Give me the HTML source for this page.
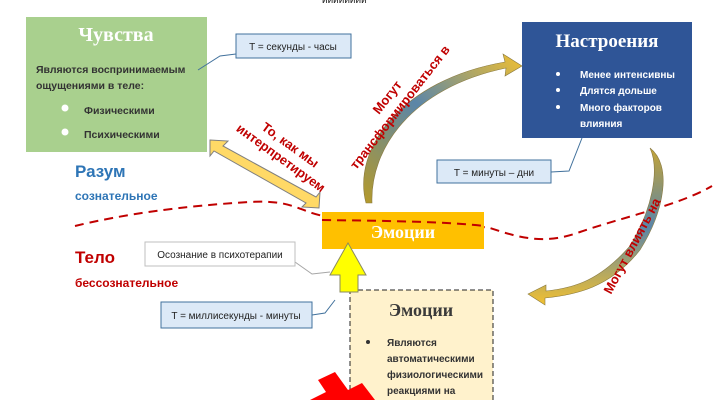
<!DOCTYPE html>
<html><head><meta charset="utf-8"><style>
html,body{margin:0;padding:0;background:#fff;width:723px;height:400px;overflow:hidden}
svg{display:block;font-family:"Liberation Sans","DejaVu Sans",sans-serif}
.b{font-weight:bold}
</style></head><body>
<svg width="723" height="400" viewBox="0 0 723 400" xmlns="http://www.w3.org/2000/svg">
<defs>
<linearGradient id="g1" x1="0" y1="1" x2="1" y2="0"><stop offset="0" stop-color="#b59a2a"/><stop offset="0.5" stop-color="#5b86a8"/><stop offset="1" stop-color="#f2c030"/></linearGradient>
<linearGradient id="g2" x1="0" y1="0" x2="0" y2="1"><stop offset="0" stop-color="#c4a437"/><stop offset="0.5" stop-color="#5b86a8"/><stop offset="1" stop-color="#f2c030"/></linearGradient>
</defs>
<text x="322" y="3" font-size="10" fill="#222">ииииииии</text>
<!-- dashed line -->
<path d="M75,226 C120,215 180,206 250,202 C300,199 300,216 340,218 C400,221 450,222 490,228 C520,238 545,245 580,232 C620,218 680,205 712,186" fill="none" stroke="#c00000" stroke-width="2" stroke-dasharray="9,6"/>
<!-- green box -->
<rect x="26" y="17" width="181" height="135" fill="#a9d08e"/>
<text x="116" y="41" font-family="Liberation Serif,serif" font-size="20" font-weight="bold" fill="#fff" text-anchor="middle">Чувства</text>
<text x="36" y="73" font-size="10.5" class="b" fill="#333">Являются воспринимаемым</text>
<text x="36" y="89" font-size="10.5" class="b" fill="#333">ощущениями в теле:</text>
<circle cx="65" cy="108" r="3.5" fill="#fff"/><text x="84" y="114" font-size="10.5" class="b" fill="#333">Физическими</text>
<circle cx="65" cy="132" r="3.5" fill="#fff"/><text x="84" y="138" font-size="10.5" class="b" fill="#333">Психическими</text>
<!-- T sec -->
<polyline points="236,54 220,56 198,70" fill="none" stroke="#41719c" stroke-width="1"/>
<rect x="236" y="34" width="115" height="24" fill="#dce9f7" stroke="#41719c"/>
<text x="293" y="50" font-size="10" fill="#222" text-anchor="middle">T = секунды - часы</text>
<!-- blue box -->
<rect x="522" y="22" width="170" height="116" fill="#2f5597"/>
<text x="607" y="47" font-family="Liberation Serif,serif" font-size="19" font-weight="bold" fill="#fff" text-anchor="middle">Настроения</text>
<g font-size="10" class="b" fill="#fff">
<circle cx="558" cy="74" r="2" fill="#fff"/><text x="580" y="78">Менее интенсивны</text>
<circle cx="558" cy="90" r="2" fill="#fff"/><text x="580" y="94">Длятся дольше</text>
<circle cx="558" cy="107" r="2" fill="#fff"/><text x="580" y="111">Много факторов</text>
<text x="580" y="127">влияния</text></g>
<polyline points="551,172 569,171 582,138" fill="none" stroke="#41719c"/>
<rect x="437" y="160" width="114" height="23" fill="#dce9f7" stroke="#41719c"/>
<text x="494" y="176" font-size="10" fill="#222" text-anchor="middle">T = минуты – дни</text>
<!-- labels -->
<text x="75" y="177" font-size="17" class="b" fill="#2e75b6">Разум</text>
<text x="75" y="200" font-size="12" class="b" fill="#2e75b6">сознательное</text>
<text x="75" y="263" font-size="17" class="b" fill="#c00000">Тело</text>
<text x="75" y="287" font-size="12" class="b" fill="#c00000">бессознательное</text>
<!-- double arrow -->
<polygon points="210,140 228,141 223,146 316,197 320,192 319,208 302,207 306,203 214,151 210,156" fill="#ffd966" stroke="#7f7f7f" stroke-width="1"/>
<g transform="translate(283,155) rotate(36)" font-size="13" class="b" fill="#c00000" text-anchor="middle">
<text x="0" y="-8">То, как мы</text><text x="0" y="8">интерпретируем</text></g>
<!-- curved arrow up -->
<path d="M366,203 C352,150 400,80 505,62 L503,54 L522,66 L505,76 L506,68 C410,88 370,150 372,203 Z" fill="url(#g1)" stroke="#8a7a40" stroke-width="0.6"/>
<g transform="translate(397,105) rotate(-52)" font-size="13" class="b" fill="#c00000" text-anchor="middle">
<text x="0" y="-8">Могут</text><text x="0" y="8">трансформироваться в</text></g>
<!-- curved arrow down -->
<path d="M650,148 C672,165 665,210 640,250 C610,288 575,295 545,298 L545,305 L528,294 L546,285 L546,291 C575,288 600,280 630,246 C652,210 660,170 650,148 Z" fill="url(#g2)" stroke="#8a7a40" stroke-width="0.6"/>
<text transform="translate(636,248) rotate(-62)" font-size="13" class="b" fill="#c00000" text-anchor="middle">Могут влиять на</text>
<!-- orange box -->
<rect x="322" y="212" width="162" height="37" fill="#ffc000"/>
<path d="M322,220 C400,221 450,222 484,226" fill="none" stroke="#c00000" stroke-width="2" stroke-dasharray="9,6"/>
<text x="403" y="238" font-family="Liberation Serif,serif" font-size="18" font-weight="bold" fill="#fff" text-anchor="middle">Эмоции</text>
<!-- osoznanie -->
<polyline points="295,262 312,274 330,272" fill="none" stroke="#a6a6a6"/>
<rect x="145" y="242" width="150" height="24" fill="#fff" stroke="#bfbfbf"/>
<text x="220" y="258" font-size="10" fill="#222" text-anchor="middle">Осознание в психотерапии</text>
<!-- T ms -->
<polyline points="312,315 325,313 335,300" fill="none" stroke="#41719c"/>
<rect x="161" y="302" width="151" height="26" fill="#dce9f7" stroke="#41719c"/>
<text x="236" y="319" font-size="10" fill="#222" text-anchor="middle">T = миллисекунды - минуты</text>
<!-- emotion box -->
<rect x="350" y="290" width="143" height="115" fill="#fff2cc" stroke="#222" stroke-dasharray="5,3"/>
<text x="421" y="316" font-family="Liberation Serif,serif" font-size="18" font-weight="bold" fill="#3a3a3a" text-anchor="middle">Эмоции</text>
<circle cx="368" cy="342" r="2" fill="#333"/>
<g font-size="10" class="b" fill="#333"><text x="387" y="346">Являются</text><text x="387" y="362">автоматическими</text><text x="387" y="378">физиологическими</text><text x="387" y="394">реакциями на</text></g>
<!-- yellow arrow -->
<polygon points="348,243 366,275 358,275 358,292 340,292 340,275 330,275" fill="#ffff00" stroke="#8a8a60"/>
<!-- lightning -->
<polygon points="318,380 335,372 348,390 362,383 375,400 310,400 326,392" fill="#ff0000"/>
</svg>
</body></html>
